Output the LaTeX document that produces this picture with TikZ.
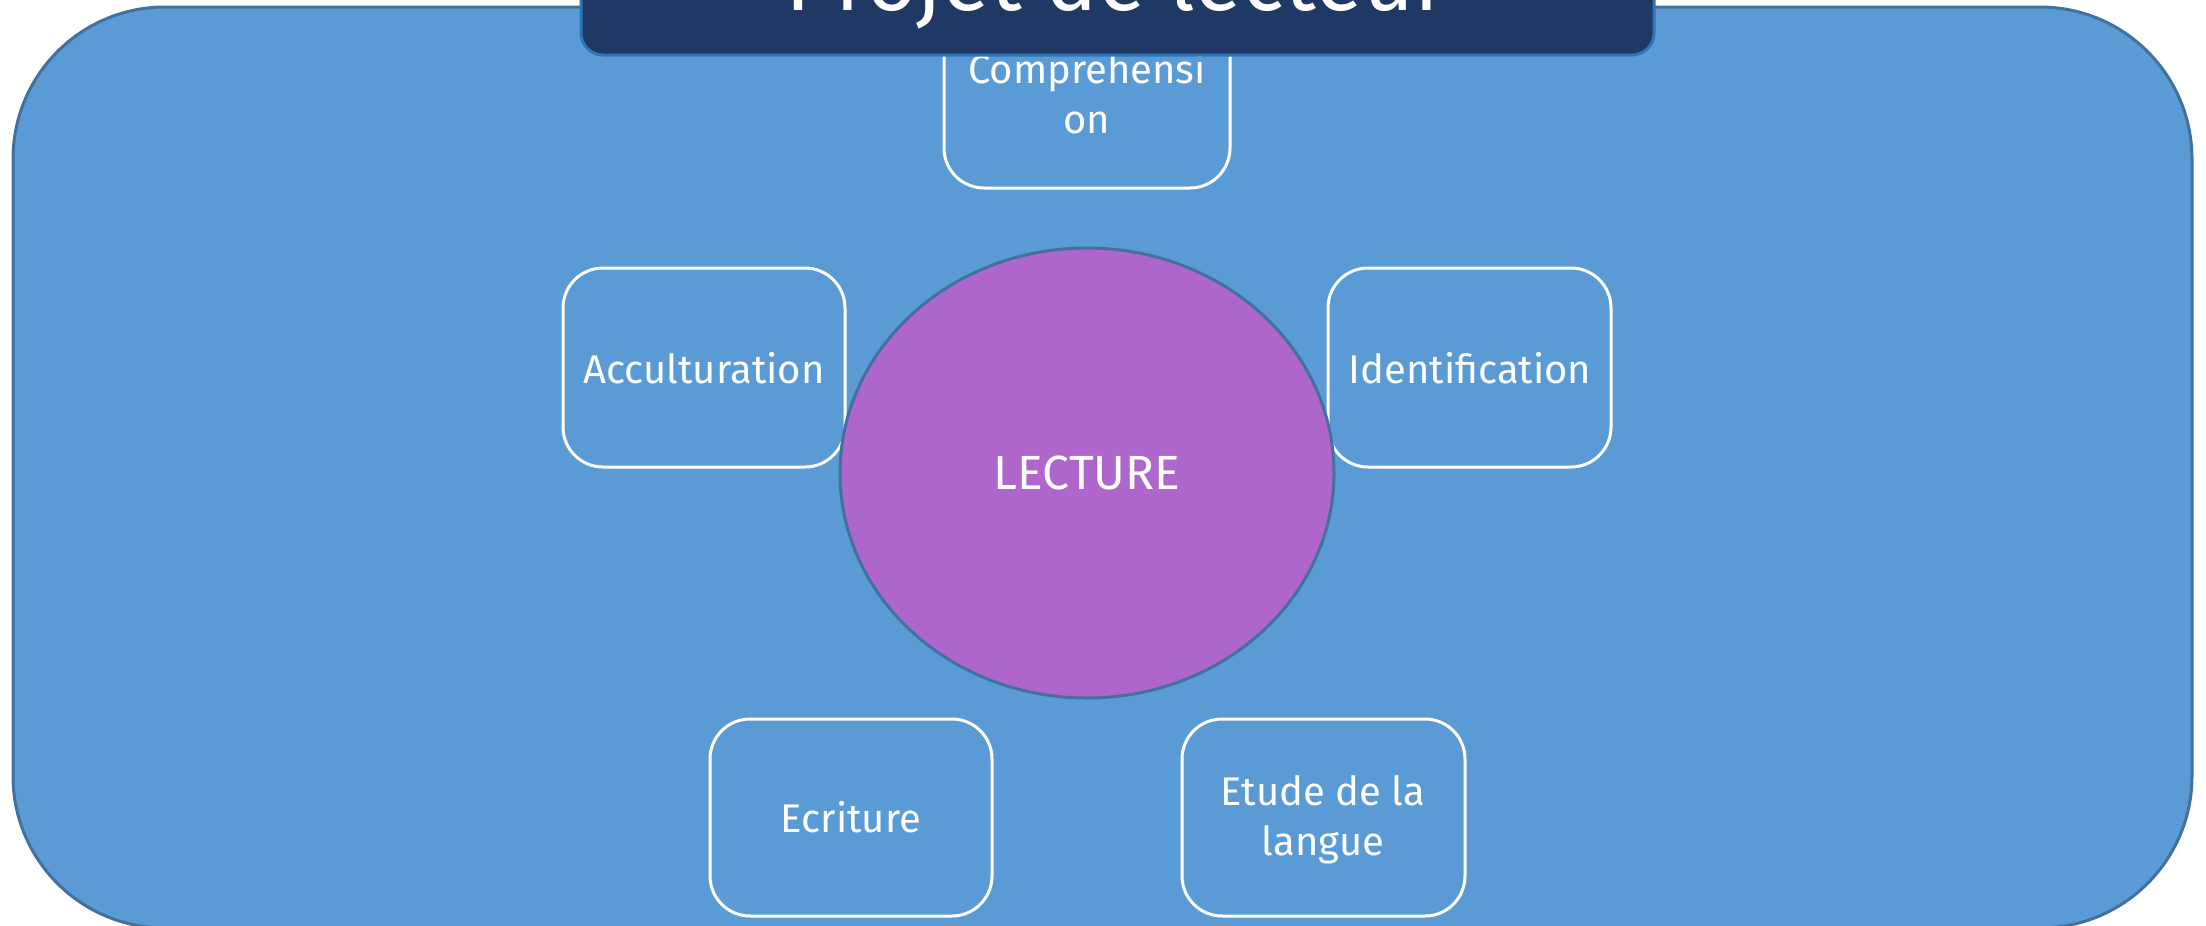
\documentclass[tikz,border=0pt]{standalone}
\usepackage{fontspec}
\setmainfont{Fira Sans}
\definecolor{bgblue}{HTML}{5B9BD5}
\definecolor{bgborder}{HTML}{41719C}
\definecolor{navy}{HTML}{203864}
\definecolor{navyborder}{HTML}{2E75B6}
\definecolor{lecpurple}{HTML}{AE66CC}
\tikzset{
  topicbox/.style={draw=white, line width=3pt, rounded corners=40pt, fill=bgblue},
  topictext/.style={text=white, align=center, font=\fontsize{40}{50}\selectfont},
}
\begin{document}
\begin{tikzpicture}[x=1pt,y=-1pt]
\useasboundingbox (0,0) rectangle (2206,926);
\begin{scope}
\clip (0,0) rectangle (2206,926);
% background panel
\draw[fill=bgblue, draw=bgborder, line width=3pt, rounded corners=152pt] (13,7) rectangle (2192,928);
% boxes
\draw[topicbox] (944,-12) rectangle (1230,188);
\node[topictext] (comp) at (1087,93) {Comprehensi\\on};
\draw[topicbox] (563,268) rectangle (845,467);
\node[topictext] (acc) at (704,368) {Acculturation};
\draw[topicbox] (1328,268) rectangle (1611,467);
\node[topictext] (ident) at (1470,368) {Identification};
\draw[topicbox] (710,719) rectangle (992,916);
\node[topictext] (ecr) at (851,817) {Ecriture};
\draw[topicbox] (1182,719) rectangle (1465,916);
\node[topictext] (etude) at (1323,820) {Etude de la\\langue};
% ellipse
\draw[fill=lecpurple, draw=bgborder, line width=3pt] (1087,473) ellipse [x radius=247pt, y radius=225pt];
\node[text=white, font=\fontsize{48}{58}\selectfont] (lect) at (1087,473) {LECTURE};
% title banner
\draw[fill=navy, draw=navyborder, line width=3pt, rounded corners=22pt] (581,-120) rectangle (1654,55);
\node[text=white, anchor=base, font=\fontsize{88}{100}\selectfont] (title) at (1117,10) {Projet de lecteur};
\end{scope}
\end{tikzpicture}
\end{document}
